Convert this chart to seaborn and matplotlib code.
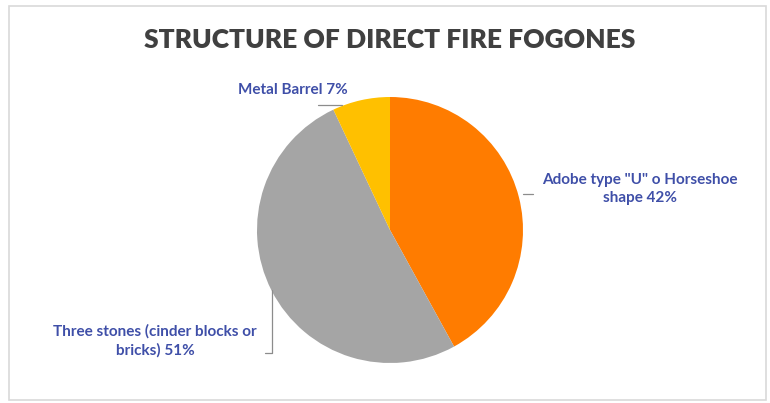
import matplotlib
matplotlib.use("Agg")
import matplotlib.pyplot as plt
import seaborn as sns
from matplotlib.patches import Rectangle
from matplotlib.lines import Line2D

# Data
categories = ['Adobe type "U" o Horseshoe\nshape', 'Three stones (cinder blocks or\nbricks)', 'Metal Barrel']
values = [42, 51, 7]
colors = ["#FF7C00", "#A5A5A5", "#FFC000"]
title = "STRUCTURE OF DIRECT FIRE FOGONES"

sns.set_theme(style="white")
plt.rcParams['font.family'] = ['Lato', 'DejaVu Sans']

W, H = 770, 403
fig = plt.figure(figsize=(W / 100, H / 100), dpi=100)

def fx(x):
    return x / W

def fy(y):
    return 1 - y / H

# Pie axes: center (390, 230) px, radius 133 px
cx, cy, r = 390, 230, 133
side = 2.5 * r
ax = fig.add_axes([fx(cx - side / 2), fy(cy + side / 2), side / W, side / H])
ax.pie(values, colors=colors, startangle=90, counterclock=False,
       wedgeprops=dict(linewidth=0))
ax.set_aspect('equal')

# Border
fig.add_artist(Rectangle((fx(9), fy(400)), (766 - 9) / W, (400 - 6) / H,
                         transform=fig.transFigure, fill=False,
                         edgecolor="#D9D9D9", linewidth=1.2))

# Title
fig.text(fx(390), fy(40), title, ha="center", va="center", fontsize=19,
         fontweight="heavy", color="#404040")

label_color = "#3F4FA8"
texts = [f"{categories[0]} {values[0]}%", f"{categories[1]} {values[1]}%",
         f"{categories[2]} {values[2]}%"]
fig.text(fx(640), fy(189), texts[0], ha="center", va="center", fontsize=11,
         fontweight="bold", color=label_color, linespacing=1.35)
fig.text(fx(155), fy(341), texts[1], ha="center", va="center", fontsize=11,
         fontweight="bold", color=label_color, linespacing=1.35)
fig.text(fx(293), fy(90), texts[2], ha="center", va="center", fontsize=11,
         fontweight="bold", color=label_color)

# Leader lines
lc = "#8C8C8C"
def line(xs, ys):
    fig.add_artist(Line2D([fx(x) for x in xs], [fy(y) for y in ys],
                          transform=fig.transFigure, color=lc, linewidth=0.9))

line([318, 342], [105, 105])
line([523, 533], [194, 194])
line([272, 272, 265], [290, 353, 353])

fig.savefig("out.png", dpi=100)
